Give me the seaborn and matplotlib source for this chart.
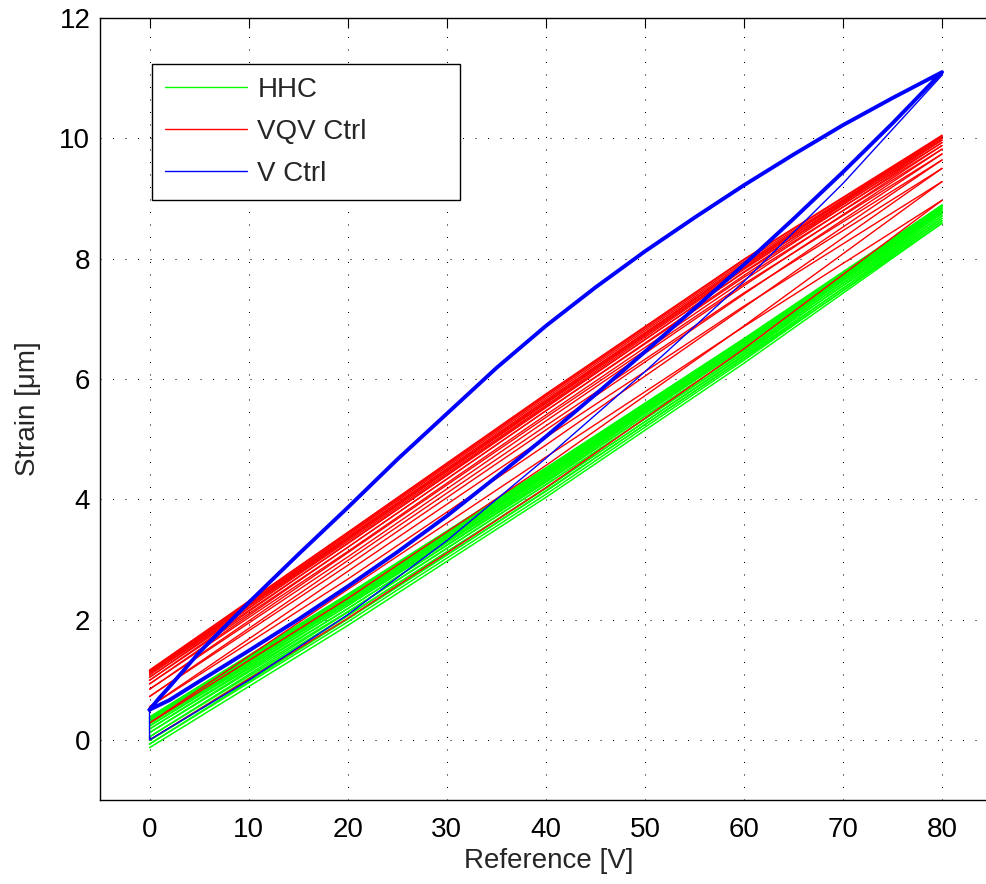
import matplotlib
matplotlib.use("Agg")
import matplotlib.pyplot as plt
import pandas as pd
import seaborn as sns
from matplotlib.lines import Line2D

# Reference voltage grid of every HHC / VQV sweep [V]
sweep_v = [0, 20, 40, 60, 80]

# HHC: strain [um] of each sweep (up / down alternating) at 0, 20, 40, 60, 80 V
hhc_at_0 = [-0.13, -0.07, -0.07, -0.01, -0.01, 0.05, 0.05, 0.12, 0.12, 0.18, 0.18, 0.23,
            0.23, 0.27, 0.27, 0.30, 0.30, 0.33, 0.33, 0.35, 0.35, 0.37, 0.37, 0.38]
hhc_at_20 = [1.90, 2.01, 1.96, 2.06, 2.01, 2.12, 2.07, 2.18, 2.13, 2.23, 2.18, 2.28,
             2.23, 2.32, 2.26, 2.34, 2.29, 2.37, 2.32, 2.39, 2.33, 2.41, 2.35, 2.42]
hhc_at_40 = [4.03, 4.14, 4.08, 4.19, 4.13, 4.24, 4.18, 4.30, 4.24, 4.35, 4.28, 4.39,
             4.32, 4.42, 4.35, 4.45, 4.38, 4.47, 4.40, 4.49, 4.42, 4.51, 4.43, 4.52]
hhc_at_60 = [6.26, 6.34, 6.31, 6.38, 6.35, 6.43, 6.40, 6.47, 6.44, 6.52, 6.48, 6.55,
             6.52, 6.59, 6.54, 6.61, 6.56, 6.63, 6.59, 6.65, 6.60, 6.66, 6.61, 6.67]
hhc_at_80 = [8.59, 8.59, 8.63, 8.63, 8.67, 8.67, 8.71, 8.71, 8.75, 8.75, 8.78, 8.78,
             8.81, 8.81, 8.83, 8.83, 8.85, 8.85, 8.87, 8.87, 8.88, 8.88, 8.89, 8.89]

# VQV Ctrl: strain [um] of each sweep (up / down alternating)
vqv_at_0 = [0.00, 0.28, 0.28, 0.55, 0.55, 0.72, 0.72, 0.84, 0.84, 0.93, 0.93, 0.99,
            0.99, 1.04, 1.04, 1.08, 1.08, 1.11, 1.11, 1.13, 1.13, 1.15, 1.15, 1.16]
vqv_at_20 = [2.02, 2.50, 2.35, 2.80, 2.67, 2.98, 2.90, 3.11, 3.04, 3.20, 3.13, 3.27,
             3.20, 3.33, 3.26, 3.37, 3.30, 3.40, 3.33, 3.42, 3.35, 3.44, 3.37, 3.45]
vqv_at_40 = [4.19, 4.70, 4.56, 5.03, 4.90, 5.22, 5.15, 5.36, 5.30, 5.47, 5.40, 5.54,
             5.47, 5.60, 5.52, 5.65, 5.56, 5.68, 5.59, 5.71, 5.61, 5.73, 5.63, 5.75]
vqv_at_60 = [6.50, 6.87, 6.88, 7.21, 7.19, 7.43, 7.41, 7.58, 7.55, 7.69, 7.64, 7.77,
             7.72, 7.84, 7.78, 7.88, 7.82, 7.92, 7.85, 7.95, 7.88, 7.98, 7.90, 7.99]
vqv_at_80 = [8.97, 8.97, 9.28, 9.28, 9.50, 9.50, 9.64, 9.64, 9.74, 9.74, 9.82, 9.82,
             9.88, 9.88, 9.93, 9.93, 9.97, 9.97, 10.00, 10.00, 10.03, 10.03, 10.05, 10.05]

# V Ctrl: steady hysteresis loop, ascending branch then descending branch
vctrl_up_v = [0, 2, 5, 10, 15, 20, 25, 30, 35, 40, 45, 50, 55, 60, 65, 70, 75, 80]
vctrl_up = [0.50, 0.66, 0.97, 1.48, 2.00, 2.55, 3.12, 3.72, 4.37, 5.04, 5.74, 6.45,
            7.17, 7.90, 8.66, 9.44, 10.25, 11.10]
vctrl_down_v = [80, 75, 70, 65, 60, 55, 50, 45, 40, 35, 30, 25, 20, 15, 10, 5, 2, 1, 0]
vctrl_down = [11.10, 10.67, 10.22, 9.73, 9.22, 8.68, 8.12, 7.52, 6.88, 6.18, 5.42, 4.66,
              3.86, 3.08, 2.28, 1.45, 0.88, 0.70, 0.50]
# V Ctrl: initial sweep from rest
vctrl_init_v = [0, 0, 10, 20, 30, 40, 50, 60, 70, 80]
vctrl_init = [0.50, 0.00, 0.99, 2.08, 3.31, 4.68, 6.12, 7.62, 9.25, 11.05]

series_colors = {"HHC": "#00ff00", "VQV Ctrl": "#ff0000", "V Ctrl": "#0000ff"}

rows = []


def add_trace(series, trace, xs, ys):
    for i, (x, y) in enumerate(zip(xs, ys)):
        rows.append({"series": series, "trace": trace, "order": i,
                     "Reference": x, "Strain": y})


for i in range(len(hhc_at_0)):
    add_trace("HHC", f"hhc{i}", sweep_v,
              [hhc_at_0[i], hhc_at_20[i], hhc_at_40[i], hhc_at_60[i], hhc_at_80[i]])
for i in range(len(vqv_at_0)):
    add_trace("VQV Ctrl", f"vqv{i}", sweep_v,
              [vqv_at_0[i], vqv_at_20[i], vqv_at_40[i], vqv_at_60[i], vqv_at_80[i]])
add_trace("V Ctrl", "loop", vctrl_up_v + vctrl_down_v, vctrl_up + vctrl_down)
add_trace("V Ctrl", "init", vctrl_init_v, vctrl_init)

df = pd.DataFrame(rows)

sns.set_theme(style="white")
plt.rcParams["font.family"] = ["Liberation Sans", "DejaVu Sans"]

fig = plt.figure(figsize=(9.86, 8.84), dpi=100)
ax = fig.add_axes([100 / 986, 1 - 800 / 884, 891.6 / 986, 782 / 884])

common = dict(x="Reference", y="Strain", units="trace", estimator=None,
              sort=False, legend=False, ax=ax)
sns.lineplot(data=df[df.series == "HHC"], color=series_colors["HHC"], lw=1.1, **common)
sns.lineplot(data=df[df.series == "VQV Ctrl"], color=series_colors["VQV Ctrl"], lw=1.0, **common)
sns.lineplot(data=df[df.trace == "init"], color=series_colors["V Ctrl"], lw=1.0, **common)
sns.lineplot(data=df[df.trace == "loop"], color=series_colors["V Ctrl"], lw=2.8, **common)

ax.set_xlim(-5, 85)
ax.set_ylim(-1, 12)
ax.set_xticks(range(0, 81, 10))
ax.set_yticks(range(0, 13, 2))

ax.set_axisbelow(True)
ax.grid(True, color="black", linestyle=(0, (1, 11)), linewidth=0.75)

for side in ["left", "top", "bottom"]:
    ax.spines[side].set_visible(True)
    ax.spines[side].set_color("black")
    ax.spines[side].set_linewidth(1.0)
ax.spines["right"].set_visible(False)

ax.tick_params(direction="in", length=7, width=0.8, top=True, right=False,
               labelsize=20, colors="black")
ax.tick_params(axis="y", pad=7)
ax.tick_params(axis="x", pad=12)

ax.set_xlabel("Reference [V]", fontsize=20, va="center")
ax.set_ylabel("Strain [\u03bcm]", fontsize=20, va="center")
ax.xaxis.set_label_coords(0.5037, -0.0780)
ax.yaxis.set_label_coords(-0.0808, 0.5)

handles = [Line2D([], [], color=series_colors[s], lw=1.0) for s in series_colors]
leg = ax.legend(handles, list(series_colors), loc="upper left",
                bbox_to_anchor=(0.0583, 0.770, 0.3455, 0.171), mode="expand",
                borderaxespad=0, frameon=True, fancybox=False, framealpha=1,
                edgecolor="black", fontsize=20, handlelength=2.96,
                handletextpad=0.37, borderpad=0.46, labelspacing=0.58)
leg.get_frame().set_linewidth(1.0)

fig.savefig("out.png", dpi=100)
